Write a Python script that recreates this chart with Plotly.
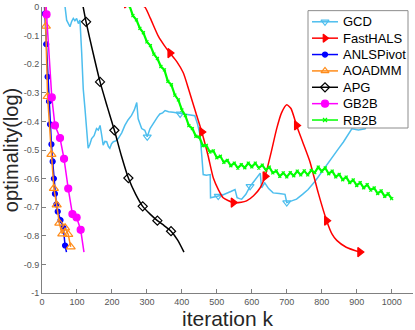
import plotly.graph_objects as go

# ----------------------------------------------------------------------------------------------------------------------
#  DATA  (iteration k , log optimality)
# ----------------------------------------------------------------------------------------------------------------------
gcd_k = [60, 66, 70.5, 75, 80, 85, 89.5, 94, 99, 104, 108.6, 113.5, 118, 123, 128, 132, 137, 142, 149, 156,
         161, 166, 170, 175, 180, 185, 190, 194, 199, 204, 211, 218, 228, 237, 246, 256, 264, 271, 275, 280,
         285, 294, 301, 309, 316, 323, 330, 337, 345, 352, 362, 375, 385, 395, 404, 418, 437, 445, 452, 457,
         461, 470, 481, 482, 493, 504, 515, 528, 540, 552, 558, 565, 571, 583, 595, 606, 615, 624, 628, 637,
         648, 661, 678, 695, 700, 714, 728, 745, 761, 781, 804, 818, 833, 848, 862, 874, 886, 905, 924, 935]
gcd_y = [0.03, 0.0, -0.046, -0.06, -0.069, -0.05, -0.04, -0.048, -0.04, -0.058, -0.046, -0.161, -0.287, -0.357,
         -0.448, -0.494, -0.48, -0.46, -0.45, -0.425, -0.43, -0.414, -0.443, -0.483, -0.47, -0.471, -0.488,
         -0.494, -0.478, -0.471, -0.468, -0.46, -0.44, -0.414, -0.395, -0.379, -0.36, -0.334, -0.391, -0.41,
         -0.425, -0.431, -0.454, -0.425, -0.41, -0.397, -0.385, -0.374, -0.37, -0.362, -0.366, -0.368, -0.37,
         -0.374, -0.374, -0.376, -0.38, -0.41, -0.448, -0.52, -0.586, -0.588, -0.586, -0.667, -0.665, -0.661,
         -0.658, -0.652, -0.645, -0.638, -0.667, -0.67, -0.672, -0.655, -0.627, -0.61, -0.595, -0.581, -0.632,
         -0.615, -0.635, -0.65, -0.652, -0.655, -0.684, -0.678, -0.672, -0.655, -0.638, -0.609, -0.569, -0.545,
         -0.517, -0.495, -0.472, -0.45, -0.426, -0.43, -0.426, -0.4]
gcd_marks = [301, 395, 504, 595, 700]

hals_k = [242, 280, 294, 310, 333, 350, 366, 385, 404, 420, 440, 457, 475, 490, 505, 518, 547, 570, 585, 605,
          624, 638, 655, 671, 685, 700, 712, 728, 745, 766, 790, 814, 830, 843, 870, 909]
hals_y = [0.013, 0.006, 0.0, -0.04, -0.103, -0.135, -0.161, -0.19, -0.23, -0.29, -0.37, -0.437, -0.52, -0.598,
          -0.64, -0.667, -0.684, -0.683, -0.678, -0.66, -0.632, -0.592, -0.51, -0.426, -0.37, -0.342, -0.355,
          -0.414, -0.47, -0.54, -0.65, -0.747, -0.795, -0.816, -0.84, -0.857]
hals_marks = [242, 366, 457, 547, 638, 728, 814, 909]

anls_k = [6, 8, 12, 16, 20, 23, 27, 30.5, 34, 37, 41, 45, 53, 61, 66, 70]
anls_y = [0.03, -0.023, -0.13, -0.244, -0.33, -0.41, -0.48, -0.54, -0.6, -0.653, -0.69, -0.715, -0.745,
          -0.772, -0.834, -0.857]
anls_marks = [8, 12, 16, 20, 23, 27, 30.5, 34, 37, 41, 45, 53, 61, 66]

ao_k = [8, 11, 16, 27, 34, 42, 49.5, 58, 66, 75, 82]
ao_y = [0.05, -0.067, -0.313, -0.515, -0.634, -0.692, -0.756, -0.793, -0.772, -0.795, -0.839]
ao_marks = [11, 16, 27, 34, 42, 49.5, 58, 66, 75, 82]

apg_k = [86, 116, 126, 146, 166, 187, 207, 227, 247, 268, 288, 310, 330, 350, 369, 388, 406]
apg_y = [0.16, 0.01, -0.052, -0.16, -0.262, -0.35, -0.431, -0.52, -0.598, -0.655, -0.697, -0.725, -0.747,
         -0.765, -0.784, -0.815, -0.857]
apg_marks = [86, 126, 166, 207, 247, 288, 330, 369]

gb_k = [10, 13, 28, 37, 51.5, 63, 75, 87, 99, 110.6, 120]
gb_y = [0.06, -0.026, -0.316, -0.414, -0.458, -0.531, -0.635, -0.724, -0.736, -0.779, -0.857]
gb_marks = [13, 28, 37, 51.5, 63, 75, 87, 99, 110.6]

rb_k = list(range(250, 1001, 10))
rb_y = [0.005, -0.03, -0.045, -0.075, -0.09, -0.122, -0.135, -0.165, -0.18, -0.208, -0.22, -0.26, -0.272,
        -0.308, -0.325, -0.36, -0.38, -0.415, -0.425, -0.452, -0.455, -0.485, -0.484, -0.507, -0.503, -0.527,
        -0.522, -0.543, -0.536, -0.555, -0.546, -0.563, -0.551, -0.562, -0.546, -0.559, -0.546, -0.563, -0.553,
        -0.57, -0.56, -0.58, -0.573, -0.592, -0.58, -0.594, -0.579, -0.59, -0.574, -0.587, -0.573, -0.587,
        -0.571, -0.579, -0.56, -0.574, -0.563, -0.583, -0.574, -0.594, -0.585, -0.604, -0.595, -0.614, -0.605,
        -0.624, -0.614, -0.632, -0.621, -0.64, -0.633, -0.652, -0.643, -0.662, -0.653, -0.67]
rb_marks = rb_k

x_ticks = [0, 100, 200, 300, 400, 500, 600, 700, 800, 900, 1000]
y_ticks = [0, -0.1, -0.2, -0.3, -0.4, -0.5, -0.6, -0.7, -0.8, -0.9, -1]

# ----------------------------------------------------------------------------------------------------------------------
#  STYLE  name, data, colour, marker symbol, marker size, smooth line, line width
# ----------------------------------------------------------------------------------------------------------------------
series = [
    ('GCD',       gcd_k,  gcd_y,  gcd_marks,  '#4DBEEE', 'triangle-down-open', 7, False, 1.5),
    ('FastHALS',  hals_k, hals_y, hals_marks, '#FF0000', 'triangle-right',     8, True,  1.5),
    ('ANLSPivot', anls_k, anls_y, anls_marks, '#0000FF', 'circle',             5, False, 1.5),
    ('AOADMM',    ao_k,   ao_y,   ao_marks,   '#FF8C1A', 'triangle-up-open',   8, False, 1.5),
    ('APG',       apg_k,  apg_y,  apg_marks,  '#000000', 'diamond-open',       7, True,  1.5),
    ('GB2B',      gb_k,   gb_y,   gb_marks,   '#FF00FF', 'circle',             7, False, 1.5),
    ('RB2B',      rb_k,   rb_y,   rb_marks,   '#00FF00', 'x-thin-open',        3, False, 2.2),
]

# ----------------------------------------------------------------------------------------------------------------------
#  PLOT
# ----------------------------------------------------------------------------------------------------------------------
fig = go.Figure()

for name, ks, ys, marks, color, symbol, msize, spline, width in series:
    marker = dict(color=color, symbol=symbol, size=msize, line=dict(color=color, width=1.2))
    fig.add_trace(go.Scatter(x=ks, y=ys, mode='lines', name=name, showlegend=False, hoverinfo='skip',
                             line=dict(color=color, width=width, shape='spline' if spline else 'linear',
                                       smoothing=0.6)))
    fig.add_trace(go.Scatter(x=[k for k in ks if k in marks], y=[y for k, y in zip(ks, ys) if k in marks],
                             mode='markers', name=name, showlegend=False, marker=marker))

# legend box (MATLAB style, tight rows) on an overlay axis measured in window pixels
lg_left, lg_right, lg_top, lg_bottom = 308, 408, 7, 126
row0, row_step = 18.3, 16.6
fig.add_trace(go.Scatter(x=[lg_left, lg_right, lg_right, lg_left, lg_left],
                         y=[lg_top, lg_top, lg_bottom, lg_bottom, lg_top],
                         xaxis='x2', yaxis='y2', mode='lines', fill='toself', fillcolor='white',
                         line=dict(color='#8c8c8c', width=1), showlegend=False, hoverinfo='skip'))
for i, (name, ks, ys, marks, color, symbol, msize, spline, width) in enumerate(series):
    yy = row0 + row_step * i
    fig.add_trace(go.Scatter(x=[lg_left + 4, lg_left + 30], y=[yy, yy], xaxis='x2', yaxis='y2', mode='lines',
                             line=dict(color=color, width=1.5), showlegend=False, hoverinfo='skip'))
    fig.add_trace(go.Scatter(x=[lg_left + 17], y=[yy], xaxis='x2', yaxis='y2', mode='markers',
                             marker=dict(color=color, symbol=symbol, size=min(msize, 7) if msize > 3 else 4,
                                         line=dict(color=color, width=1.2)),
                             showlegend=False, hoverinfo='skip'))
    fig.add_annotation(x=lg_left + 33, y=yy, xref='x2', yref='y2', text=name, showarrow=False,
                       xanchor='left', yanchor='middle', font=dict(size=13, color='#000000'))

axis_style = dict(showline=True, linecolor='#808080', linewidth=1, ticks='inside', ticklen=4,
                  tickcolor='#808080', tickfont=dict(size=9, color='#555555'), showgrid=False,
                  zeroline=False, mirror=False, ticklabeloverflow='allow')

fig.update_layout(
    width=415, height=330,
    margin=dict(l=42, r=2, t=3, b=37),
    paper_bgcolor='white', plot_bgcolor='white',
    font=dict(family='Liberation Sans, Arial, sans-serif', color='#262626'),
    showlegend=False,
    xaxis=dict(range=[0, 1061], tickvals=x_ticks, ticktext=[str(v) for v in x_ticks],
               title=dict(text='iteration k', font=dict(size=21), standoff=6), **axis_style),
    yaxis=dict(range=[-1, 0], tickvals=y_ticks, ticktext=['%g' % v for v in y_ticks],
               title=dict(text='optimality(log)', font=dict(size=20), standoff=4), **axis_style),
    xaxis2=dict(range=[42, 413], overlaying='x', anchor='y2', visible=False),
    yaxis2=dict(range=[293.3, 3.3], overlaying='y', anchor='x2', visible=False),
)

# page body has a default 8px margin; drop it so the figure sits at the window corner
fig.write_html("out.html", config={'displayModeBar': False},
               post_script="document.body.style.margin='0';")
